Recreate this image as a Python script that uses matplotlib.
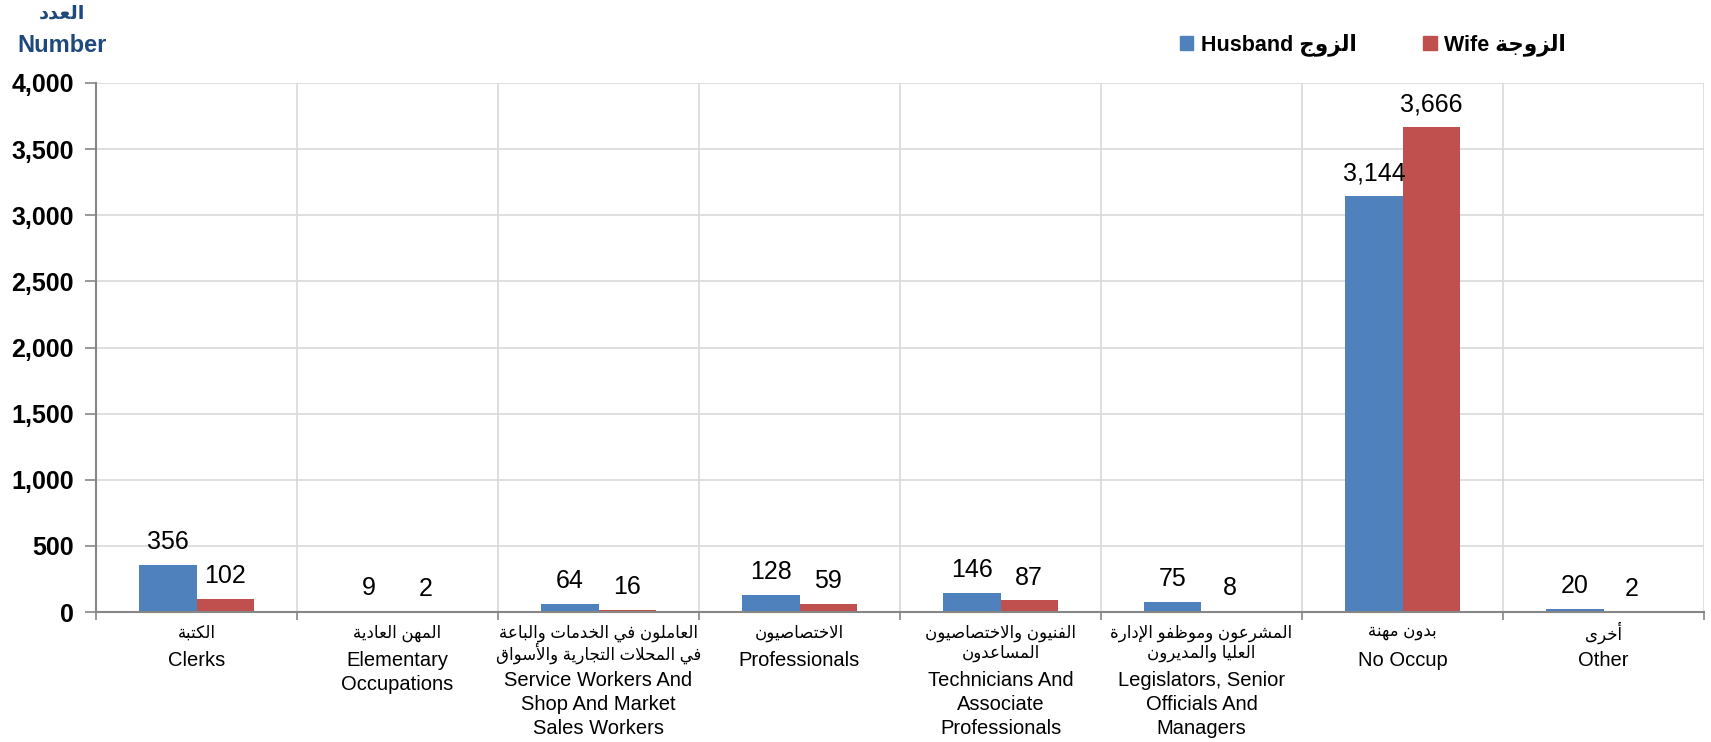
import matplotlib
matplotlib.use("Agg")
import matplotlib.pyplot as plt
from matplotlib.patches import Patch
from matplotlib.ticker import FuncFormatter

plt.rcParams['font.family'] = ['Liberation Sans', 'DejaVu Sans']

# ---- data ----
cats_ar = ["الكتبة", "المهن العادية", "العاملون في الخدمات والباعة\nفي المحلات التجارية والأسواق",
           "الاختصاصيون", "الفنيون والاختصاصيون\nالمساعدون", "المشرعون وموظفو الإدارة\nالعليا والمديرون",
           "بدون مهنة", "أخرى"]
cats_en = ["Clerks", "Elementary\nOccupations", "Service Workers And\nShop And Market\nSales Workers",
           "Professionals", "Technicians And\nAssociate\nProfessionals", "Legislators, Senior\nOfficials And\nManagers",
           "No Occup", "Other"]
husband = [356, 9, 64, 128, 146, 75, 3144, 20]
wife = [102, 2, 16, 59, 87, 8, 3666, 2]

# ---- minimal arabic shaping (presentation forms), matplotlib has no bidi ----
_forms = {
    '\u0621': (0xFE80, 1), '\u0622': (0xFE81, 2), '\u0623': (0xFE83, 2), '\u0624': (0xFE85, 2),
    '\u0625': (0xFE87, 2), '\u0626': (0xFE89, 4), '\u0627': (0xFE8D, 2), '\u0628': (0xFE8F, 4),
    '\u0629': (0xFE93, 2), '\u062A': (0xFE95, 4), '\u062B': (0xFE99, 4), '\u062C': (0xFE9D, 4),
    '\u062D': (0xFEA1, 4), '\u062E': (0xFEA5, 4), '\u062F': (0xFEA9, 2), '\u0630': (0xFEAB, 2),
    '\u0631': (0xFEAD, 2), '\u0632': (0xFEAF, 2), '\u0633': (0xFEB1, 4), '\u0634': (0xFEB5, 4),
    '\u0635': (0xFEB9, 4), '\u0636': (0xFEBD, 4), '\u0637': (0xFEC1, 4), '\u0638': (0xFEC5, 4),
    '\u0639': (0xFEC9, 4), '\u063A': (0xFECD, 4), '\u0641': (0xFED1, 4), '\u0642': (0xFED5, 4),
    '\u0643': (0xFED9, 4), '\u0644': (0xFEDD, 4), '\u0645': (0xFEE1, 4), '\u0646': (0xFEE5, 4),
    '\u0647': (0xFEE9, 4), '\u0648': (0xFEED, 2), '\u0649': (0xFEEF, 2), '\u064A': (0xFEF1, 4),
}
_lam_alef = {'\u0622': 0xFEF5, '\u0623': 0xFEF7, '\u0625': 0xFEF9, '\u0627': 0xFEFB}


def shape_line(s):
    items = []
    i = 0
    while i < len(s):
        if s[i] == '\u0644' and i + 1 < len(s) and s[i + 1] in _lam_alef:
            items.append((_lam_alef[s[i + 1]], 2))
            i += 2
        elif s[i] in _forms:
            items.append(_forms[s[i]])
            i += 1
        else:
            items.append(s[i])
            i += 1
    out = []
    for k, it in enumerate(items):
        if isinstance(it, str):
            out.append(it)
            continue
        start, n = it
        prev = items[k - 1] if k > 0 else None
        nxt = items[k + 1] if k + 1 < len(items) else None
        jp = isinstance(prev, tuple) and prev[1] == 4
        jn = n == 4 and isinstance(nxt, tuple)
        if n == 1:
            idx = 0
        elif jp and jn:
            idx = 3
        elif jp:
            idx = 1
        elif jn:
            idx = 2
        else:
            idx = 0
        out.append(chr(start + idx))
    return ''.join(out)[::-1]


def ar(s):
    return '\n'.join(shape_line(l) for l in s.split('\n'))


# ---- plot ----
fig = plt.figure(figsize=(17.11, 7.42), dpi=100)
ax = fig.add_axes([96 / 1711, 1 - 612 / 742, (1704 - 96) / 1711, (612 - 83) / 742])

x = list(range(len(cats_en)))
w = 0.284
blue, red = '#4F81BD', '#C0504D'
b1 = ax.bar([i - w / 2 for i in x], husband, w, color=blue, zorder=2)
b2 = ax.bar([i + w / 2 for i in x], wife, w, color=red, zorder=2)

for bars, vals in ((b1, husband), (b2, wife)):
    for r, v in zip(bars, vals):
        ax.annotate(f"{v:,}", (r.get_x() + r.get_width() / 2, v), xytext=(0, 11.5),
                    textcoords='offset points', ha='center', va='baseline', fontsize=18)

ax.set_xlim(-0.5, 7.5)
ax.set_ylim(0, 4000)
ax.set_yticks(range(0, 4001, 500))
ax.yaxis.set_major_formatter(FuncFormatter(lambda v, p: f"{v:,.0f}"))
for t in ax.get_yticklabels():
    t.set_fontweight('bold')
    t.set_fontsize(18)
ax.tick_params(axis='y', direction='out', length=8, width=1.2, color='#868686', pad=8)

ax.set_xticks([i - 0.5 for i in range(9)])
ax.set_xticklabels([])
ax.tick_params(axis='x', which='major', direction='out', length=6, width=1.2, color='#868686')

# category labels: arabic lines (smaller) then english lines
for i, (a, e) in enumerate(zip(cats_ar, cats_en)):
    a_lines = a.split('\n')
    for k, line in enumerate(a_lines):
        ax.annotate(shape_line(line), (i, 0), xytext=(0, -(21 + 20 * k)), textcoords='offset pixels',
                    ha='center', va='center', fontsize=12, annotation_clip=False)
    y0 = 21 + 20 * (len(a_lines) - 1) + 28
    for j, line in enumerate(e.split('\n')):
        ax.annotate(line, (i, 0), xytext=(0, -(y0 + 24 * j)), textcoords='offset pixels',
                    ha='center', va='center', fontsize=14.5, annotation_clip=False)

ax.grid(True, which='major', color='#D9D9D9', lw=1.2, zorder=0)
ax.set_axisbelow(True)
for s in ('top', 'right'):
    ax.spines[s].set_visible(False)
for s in ('left', 'bottom'):
    ax.spines[s].set_color('#868686')
    ax.spines[s].set_linewidth(1.5)

# axis title
fig.text(62 / 1711, 1 - 14 / 742, ar("العدد"), ha='center', va='center', fontsize=14,
         fontweight='bold', color='#1F497D')
fig.text(62 / 1711, 1 - 45 / 742, "Number", ha='center', va='center', fontsize=17,
         fontweight='bold', color='#1F497D')

# legend
handles = [Patch(color=blue), Patch(color=red)]
labels = ["Husband " + ar("الزوج"), "Wife " + ar("الزوجة")]
fig.legend(handles, labels, loc='center left', bbox_to_anchor=(1180 / 1711, 1 - 45 / 742),
           ncol=2, frameon=False, handlelength=0.62, handleheight=0.62, handletextpad=0.35,
           columnspacing=3.1, borderpad=0, borderaxespad=0,
           prop={'weight': 'bold', 'size': 15.5})

fig.savefig('out.png', dpi=100)
